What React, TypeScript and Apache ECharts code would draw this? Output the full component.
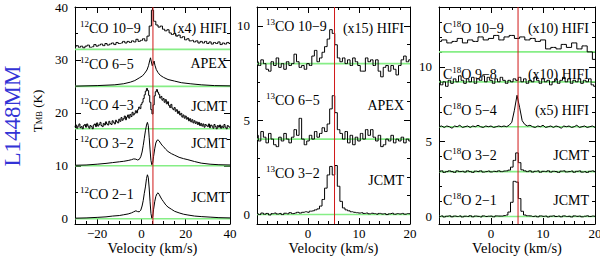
import React, { useEffect, useRef } from "react";
import * as echarts from "echarts";

const VLSR = 5.2;
const SERIF = "'Liberation Serif', 'DejaVu Serif', serif";

// ---------------- Panel 1 : 12CO (km/s, K) ----------------
const CO12_21: [number, number][] = [
  [-30, 0.1], [-25, 0.15], [-20, 0.25], [-16, 0.35], [-13, 0.5], [-10, 0.6], [-8, 0.75], [-6, 0.9],
  [-4.5, 1.1], [-3.5, 1.3], [-2.5, 1.5], [-1.8, 1.35], [-1, 1.3], [-0.3, 1.6], [0.3, 2.4], [0.8, 3.4],
  [1.3, 4.8], [1.8, 6.0], [2.3, 7.6], [2.7, 8.3], [3.1, 7.8], [3.5, 5.8], [3.9, 3.2], [4.3, 1.0],
  [4.7, 0.1], [5.1, 0.4], [5.5, 1.8], [6.0, 3.2], [6.5, 4.2], [7.0, 4.7], [7.5, 4.9], [8.0, 4.6],
  [8.6, 4.1], [9.3, 3.6], [10, 3.2], [11, 2.6], [12, 2.2], [13.5, 1.8], [15, 1.4], [17, 1.1],
  [19, 0.85], [21, 0.7], [24, 0.5], [27, 0.4], [31, 0.3], [35, 0.2], [40, 0.15],
];
const CO12_32: [number, number][] = [
  [-30, 10.1], [-25, 10.15], [-20, 10.3], [-16, 10.45], [-13, 10.6], [-10, 10.75], [-8, 10.85], [-6, 11.0],
  [-4.5, 11.15], [-3.5, 11.3], [-2.5, 11.25], [-1.8, 11.1], [-1, 11.2], [-0.3, 11.7], [0.3, 12.6], [0.8, 13.8],
  [1.3, 15.2], [1.8, 16.6], [2.3, 17.7], [2.7, 18.2], [3.1, 17.6], [3.5, 15.4], [3.9, 13.0], [4.3, 11.0],
  [4.7, 10.2], [5.1, 10.6], [5.5, 11.8], [6.0, 13.2], [6.5, 14.3], [7.0, 14.8], [7.5, 14.9], [8.0, 14.7],
  [8.6, 14.3], [9.3, 13.9], [10, 13.6], [11, 13.1], [12, 12.7], [13.5, 12.3], [15, 12.0], [17, 11.6],
  [19, 11.35], [21, 11.15], [24, 10.8], [27, 10.5], [31, 10.3], [35, 10.2], [40, 10.15],
];
const CO12_43_START = -30;
const CO12_43_STEP = 0.5;
const CO12_43 = [
  17.3, 17.7, 17.1, 17.5, 17.9, 17.2, 17.4, 17.0, 17.6, 17.8,
  17.3, 17.9, 17.5, 17.1, 17.6, 17.4, 17.0, 17.7, 17.9, 17.4,
  18.1, 17.5, 17.8, 18.2, 17.6, 17.4, 18.0, 17.7, 18.3, 17.9,
  17.7, 18.4, 18.0, 17.8, 18.5, 18.2, 17.9, 18.6, 18.3, 18.1,
  18.8, 18.4, 19.1, 18.6, 18.9, 19.4, 18.7, 19.2, 19.6, 19.0,
  19.7, 19.3, 20.1, 19.6, 19.9, 20.4, 20.0, 20.6, 21.1, 20.8,
  21.6, 22.0, 22.7, 23.4, 24.1, 24.6, 24.2, 23.3, 22.0, 20.6,
  19.8, 21.5, 23.2, 24.0, 24.4, 23.9, 23.5, 22.8, 23.1, 22.4,
  22.7, 22.0, 22.5, 21.7, 22.1, 21.4, 21.0, 21.6, 20.9, 20.6,
  21.0, 20.3, 20.6, 19.9, 20.3, 19.6, 19.9, 19.2, 19.6, 19.0,
  19.4, 18.8, 19.1, 18.5, 18.9, 18.3, 18.7, 18.1, 18.5, 18.0,
  18.3, 17.8, 18.2, 17.6, 18.0, 17.5, 17.9, 17.3, 17.8, 17.6,
  17.4, 17.9, 17.2, 17.7, 17.5, 17.1, 17.8, 17.4, 17.0, 17.6,
  17.3, 17.7, 17.1, 17.5, 17.2, 17.8, 17.3, 17.0, 17.6, 17.4,
  17.2,
];
const CO12_65: [number, number][] = [
  [-30, 25.05], [-20, 25.15], [-12, 25.3], [-8, 25.5], [-5, 25.8], [-3, 26.1], [-1, 26.6], [0.5, 27.0],
  [1.5, 27.5], [2.5, 28.1], [3.2, 28.9], [3.7, 29.8], [4.1, 30.4], [4.5, 29.6], [4.9, 28.9], [5.3, 29.3],
  [5.7, 29.8], [6.1, 29.0], [6.7, 28.2], [7.5, 27.6], [8.5, 27.1], [10, 26.7], [12, 26.3], [15, 26.0],
  [18, 25.7], [22, 25.5], [27, 25.3], [33, 25.15], [40, 25.1],
];
const CO12_109_START = -30;
const CO12_109_STEP = 1;
const CO12_109 = [
  32.5, 32.7, 32.4, 32.6, 32.3, 32.6, 32.8, 32.4, 32.5, 32.9,
  32.6, 32.8, 33.0, 32.7, 33.1, 32.8, 33.0, 33.2, 32.9, 33.3,
  33.1, 33.2, 33.5, 33.2, 33.5, 33.3, 33.6, 33.4, 33.9, 33.5,
  33.7, 34.0, 33.6, 34.5, 36.4, 39.4, 37.3, 36.6, 36.2, 36.4,
  35.8, 35.5, 35.7, 35.1, 34.8, 35.0, 34.5, 34.7, 34.2, 34.4,
  33.8, 34.0, 33.6, 33.7, 33.4, 33.6, 33.2, 33.5, 33.2, 33.5,
  33.1, 33.4, 33.0, 33.3, 33.1, 33.4, 32.9, 33.2, 33.0, 33.3,
  33.1,
];
const CO12_BASE = [0, 10, 17, 25, 32];
const CO12_NAMES = ["{s|12}CO 10−9", "{s|12}CO 6−5", "{s|12}CO 4−3", "{s|12}CO 3−2", "{s|12}CO 2−1"];
const CO12_TAGS = ["(x4) HIFI", "APEX", "JCMT", "JCMT", "JCMT"];

// ---------------- Panel 2 : 13CO ----------------
const CO13_START = -10;
const CO13_STEP = 0.5;
const CO13_32 = [
  0.05, 0.0, 0.08, 0.02, 0.06, -0.02, 0.05, 0.08, 0.03, 0.06,
  0.0, 0.07, 0.04, 0.1, 0.05, 0.08, 0.12, 0.08, 0.12, 0.15,
  0.12, 0.18, 0.2, 0.25, 0.3, 0.45, 0.8, 1.4, 2.1, 2.55,
  2.1, 2.6, 1.5, 0.7, 0.35, 0.25, 0.2, 0.15, 0.12, 0.1,
  0.08, 0.1, 0.06, 0.08, 0.04, 0.07, 0.05, 0.02, 0.06, 0.03,
  0.05, 0.0, 0.04, 0.07, 0.02, 0.05, 0.03, 0.06, 0.02, 0.05,
  0.04,
];
const CO13_65 = [
  4.2, 3.9, 4.4, 4.1, 3.8, 4.3, 4.0, 3.7, 3.6, 4.1,
  3.9, 4.3, 4.0, 3.8, 4.1, 4.5, 4.2, 5.1, 4.0, 3.7,
  3.9, 4.2, 4.0, 4.4, 4.1, 4.3, 4.6, 4.4, 4.8, 5.6,
  6.3, 5.4, 4.5, 4.3, 4.0, 4.4, 3.8, 4.2, 3.7, 4.1,
  3.9, 4.3, 4.0, 4.5, 4.2, 4.5, 4.1, 3.9, 4.2, 3.6,
  3.7, 4.0, 3.9, 4.2, 3.8, 4.0, 3.9, 4.1, 3.8, 4.0,
  3.9,
];
const CO13_109 = [
  8.1, 7.9, 8.2, 8.0, 7.7, 7.6, 8.1, 7.9, 8.3, 7.8,
  8.0, 7.7, 8.1, 7.9, 8.0, 8.5, 8.1, 7.8, 7.9, 7.7,
  8.0, 7.9, 8.4, 8.7, 8.1, 8.3, 8.6, 8.9, 9.3, 9.8,
  9.6, 9.0, 8.3, 8.1, 8.3, 8.0, 8.2, 7.9, 8.3, 8.1,
  7.9, 7.6, 7.6, 8.3, 8.1, 8.2, 7.9, 8.2, 7.6, 7.3,
  7.8, 7.9, 7.6, 7.9, 7.7, 7.4, 7.9, 8.2, 8.4, 8.1,
  8.2,
];
const CO13_BASE = [0, 4, 8];
const CO13_NAMES = ["{s|13}CO 10−9", "{s|13}CO 6−5", "{s|13}CO 3−2"];
const CO13_TAGS = ["(x15) HIFI", "APEX", "JCMT"];

// ---------------- Panel 3 : C18O ----------------
const C18O_109_START = -10;
const C18O_109_STEP = 1;
const C18O_109 = [
  11.7, 11.8, 11.6, 11.7, 11.9, 11.6, 11.8, 11.7, 12.0, 11.8,
  11.9, 12.1, 11.8, 12.0, 12.1, 11.9, 12.0, 11.8, 11.9, 11.7,
  11.8, 11.2, 11.3, 11.2, 11.5, 11.3, 11.6, 11.2, 11.4, 11.0,
  10.5,
];
const C18O_START = -10;
const C18O_STEP = 0.5;
const C18O_98 = [
  9.1, 8.8, 9.0, 8.7, 9.1, 8.9, 9.2, 9.0, 9.4, 9.1,
  8.9, 9.2, 9.0, 9.3, 8.9, 9.2, 9.1, 9.4, 9.0, 9.3,
  9.1, 8.9, 9.2, 9.0, 9.3, 9.1, 8.9, 9.1, 9.0, 9.2,
  9.1, 9.3, 9.0, 9.2, 8.9, 9.1, 9.0, 9.3, 9.1, 8.9,
  9.2, 9.0, 9.1, 8.8, 9.0, 9.2, 8.9, 9.1, 9.3, 9.0,
  9.2, 8.9, 9.1, 9.0, 9.2, 8.9, 9.1, 9.0, 9.2, 8.8,
  8.7,
];
const C18O_54 = [
  6.0, 6.05, 5.95, 6.05, 6.0, 5.9, 6.05, 6.0, 6.1, 5.95,
  6.0, 6.05, 5.95, 6.05, 6.0, 6.1, 6.0, 5.95, 6.05, 6.0,
  6.05, 5.95, 6.0, 6.05, 6.0, 6.05, 6.0, 6.1, 6.3, 7.1,
  8.1, 7.3, 6.4, 6.15, 6.05, 6.1, 6.0, 5.95, 6.05, 6.0,
  6.1, 5.95, 6.0, 6.05, 5.95, 6.05, 6.0, 5.9, 6.05, 6.0,
  6.05, 5.95, 6.0, 6.1, 5.95, 6.0, 6.05, 5.95, 6.0, 6.05,
  5.95,
];
const C18O_32 = [
  3.0, 3.05, 2.95, 3.0, 3.05, 3.0, 2.95, 3.05, 3.0, 3.02,
  2.97, 3.05, 3.0, 2.95, 3.03, 3.0, 3.05, 2.97, 3.0, 3.04,
  2.98, 3.02, 3.0, 3.05, 3.0, 3.04, 3.05, 3.1, 3.3, 3.75,
  4.25, 3.6, 3.12, 3.05, 3.0, 3.05, 2.97, 3.02, 3.05, 2.96,
  3.02, 3.0, 3.05, 2.97, 3.02, 3.0, 2.95, 3.03, 3.05, 2.98,
  3.0, 3.04, 2.96, 3.02, 3.05, 2.97, 3.0, 2.95, 3.02, 3.05,
  3.0,
];
const C18O_21 = [
  0.0, 0.04, -0.03, 0.02, 0.05, -0.02, 0.03, 0.0, 0.04, -0.03,
  0.02, 0.0, 0.05, -0.02, 0.03, 0.01, -0.03, 0.04, 0.0, 0.02,
  0.03, -0.02, 0.04, 0.03, 0.03, 0.06, 0.1, 0.3, 0.95, 2.35,
  2.3, 1.2, 0.35, 0.1, 0.05, 0.04, 0.0, 0.03, -0.02, 0.04,
  0.01, 0.03, -0.03, 0.02, 0.05, 0.0, 0.03, -0.02, 0.04, 0.0,
  0.02, -0.03, 0.04, 0.01, 0.03, -0.02, 0.02, 0.05, 0.0, 0.03,
  0.01,
];
const C18O_BASE = [0, 3, 6, 9, 11];
const C18O_NAMES = ["C{s|18}O 10−9", "C{s|18}O 9−8", "C{s|18}O 5−4", "C{s|18}O 3−2", "C{s|18}O 2−1"];
const C18O_TAGS = ["(x10) HIFI", "(x10) HIFI", "(x5) HIFI", "JCMT", "JCMT"];

// axis ticks
const P1_X_LABELS = [-20, 0, 20, 40];
const P1_X_MINOR = [-30, -25, -15, -10, -5, 5, 10, 15, 25, 30, 35];
const P1_Y_LABELS = [0, 10, 20, 30, 40];
const P1_Y_MINOR = [5, 15, 25, 35];
const P23_X_LABELS = [0, 10, 20];
const P23_X_MAJOR = [-10, 0, 10, 20];
const P23_X_MINOR = [-8, -6, -4, -2, 2, 4, 6, 8, 12, 14, 16, 18];
const P23_Y_LABELS = [0, 5, 10];
const P2_Y_MINOR = [1, 2, 3, 4, 6, 7, 8, 9, 11];
const P3_Y_MINOR = [1, 2, 3, 4, 6, 7, 8, 9, 11, 12, 13];

const channels = (start: number, step: number, vals: number[]) =>
  vals.map((t, i) => [start + i * step, t]);

type Spec = { data: number[][]; step: boolean };

const PANELS = [
  {
    left: 75, width: 155, xr: [-30, 40], yr: [-1, 40],
    xLab: P1_X_LABELS, xMaj: P1_X_LABELS, xMin: P1_X_MINOR,
    yLab: P1_Y_LABELS, yMin: P1_Y_MINOR,
    base: CO12_BASE,
    spectra: [
      { data: CO12_21, step: false },
      { data: CO12_32, step: false },
      { data: channels(CO12_43_START, CO12_43_STEP, CO12_43), step: true },
      { data: CO12_65, step: false },
      { data: channels(CO12_109_START, CO12_109_STEP, CO12_109), step: true },
    ] as Spec[],
    names: CO12_NAMES, tags: CO12_TAGS,
    nameX: 80, tagX: 227, nameY: [28, 64, 105, 143, 194], tagY: [28, 63, 106, 143, 197],
  },
  {
    left: 257, width: 153, xr: [-10, 20], yr: [-0.5, 11],
    xLab: P23_X_LABELS, xMaj: P23_X_MAJOR, xMin: P23_X_MINOR,
    yLab: P23_Y_LABELS, yMin: P2_Y_MINOR,
    base: CO13_BASE,
    spectra: [
      { data: channels(CO13_START, CO13_STEP, CO13_32), step: true },
      { data: channels(CO13_START, CO13_STEP, CO13_65), step: true },
      { data: channels(CO13_START, CO13_STEP, CO13_109), step: true },
    ] as Spec[],
    names: CO13_NAMES, tags: CO13_TAGS,
    nameX: 266, tagX: 404, nameY: [26, 100, 173], tagY: [28, 105, 180],
  },
  {
    left: 439, width: 156, xr: [-10, 20], yr: [-0.5, 14],
    xLab: P23_X_LABELS, xMaj: P23_X_MAJOR, xMin: P23_X_MINOR,
    yLab: P23_Y_LABELS, yMin: P3_Y_MINOR,
    base: C18O_BASE,
    spectra: [
      { data: channels(C18O_START, C18O_STEP, C18O_21), step: true },
      { data: channels(C18O_START, C18O_STEP, C18O_32), step: true },
      { data: channels(C18O_START, C18O_STEP, C18O_54), step: false },
      { data: channels(C18O_START, C18O_STEP, C18O_98), step: true },
      { data: channels(C18O_109_START, C18O_109_STEP, C18O_109), step: true },
    ] as Spec[],
    names: C18O_NAMES, tags: C18O_TAGS,
    nameX: 443, tagX: 589, nameY: [28, 74, 110, 155, 200], tagY: [28, 74, 110, 155, 200],
  },
];

const TOP = 7;
const HEIGHT = 217;

const fmt = (v: number) => (v < 0 ? "−" + Math.abs(v) : String(v));

function buildOption() {
  const grid: any[] = [];
  const xAxis: any[] = [];
  const yAxis: any[] = [];
  const series: any[] = [];
  const graphic: any[] = [];
  const line = { color: "#000", width: 1 };

  PANELS.forEach((p, i) => {
    grid.push({ left: p.left, top: TOP, width: p.width, height: HEIGHT, outerBoundsMode: "none" });
    const common = (min: number, max: number) => ({
      gridIndex: i, type: "value", min, max, splitLine: { show: false },
    });
    // x axes: bottom major (with labels), bottom minor, top major, top minor
    xAxis.push({
      ...common(p.xr[0], p.xr[1]), position: "bottom",
      axisLine: { show: true, onZero: false, lineStyle: line },
      axisTick: { show: true, inside: true, length: 6, customValues: p.xMaj, lineStyle: line },
      axisLabel: {
        show: true, customValues: p.xLab, formatter: fmt, color: "#000",
        fontFamily: SERIF, fontSize: 13, lineHeight: 12, margin: 3,
      },
      name: "Velocity (km/s)", nameLocation: "middle", nameGap: 16, nameMoveOverlap: false,
      nameTextStyle: {
        color: "#000", fontFamily: SERIF, fontSize: 14.5, fontWeight: "normal", lineHeight: 15,
      },
    });
    xAxis.push({
      ...common(p.xr[0], p.xr[1]), position: "bottom",
      axisLine: { show: false, onZero: false },
      axisTick: { show: true, inside: true, length: 3, customValues: p.xMin, lineStyle: line },
      axisLabel: { show: false },
    });
    xAxis.push({
      ...common(p.xr[0], p.xr[1]), position: "top",
      axisLine: { show: true, onZero: false, lineStyle: line },
      axisTick: { show: true, inside: true, length: 6, customValues: p.xMaj, lineStyle: line },
      axisLabel: { show: false },
    });
    xAxis.push({
      ...common(p.xr[0], p.xr[1]), position: "top",
      axisLine: { show: false, onZero: false },
      axisTick: { show: true, inside: true, length: 3, customValues: p.xMin, lineStyle: line },
      axisLabel: { show: false },
    });
    // y axes
    yAxis.push({
      ...common(p.yr[0], p.yr[1]), position: "left",
      axisLine: { show: true, onZero: false, lineStyle: line },
      axisTick: { show: true, inside: true, length: 6, customValues: p.yLab, lineStyle: line },
      axisLabel: {
        show: true, customValues: p.yLab, formatter: fmt, color: "#000",
        fontFamily: SERIF, fontSize: 13, margin: 7,
      },
    });
    yAxis.push({
      ...common(p.yr[0], p.yr[1]), position: "left",
      axisLine: { show: false, onZero: false },
      axisTick: { show: true, inside: true, length: 3, customValues: p.yMin, lineStyle: line },
      axisLabel: { show: false },
    });
    yAxis.push({
      ...common(p.yr[0], p.yr[1]), position: "right",
      axisLine: { show: true, onZero: false, lineStyle: line },
      axisTick: { show: true, inside: true, length: 6, customValues: p.yLab, lineStyle: line },
      axisLabel: { show: false },
    });
    yAxis.push({
      ...common(p.yr[0], p.yr[1]), position: "right",
      axisLine: { show: false, onZero: false },
      axisTick: { show: true, inside: true, length: 3, customValues: p.yMin, lineStyle: line },
      axisLabel: { show: false },
    });

    const xi = i * 4;
    const yi = i * 4;
    p.base.forEach((b) => {
      series.push({
        type: "line", xAxisIndex: xi, yAxisIndex: yi, silent: true, z: 1,
        showSymbol: false, symbol: "none",
        data: [[p.xr[0], b], [p.xr[1], b]],
        lineStyle: { color: "#86ee86", width: 1.6 },
      });
    });
    p.spectra.forEach((s) => {
      series.push({
        type: "line", xAxisIndex: xi, yAxisIndex: yi, silent: true, z: 2,
        showSymbol: false, symbol: "none", step: s.step ? "middle" : false,
        data: s.data,
        lineStyle: { color: "#000", width: 1 },
      });
    });
    series.push({
      type: "line", xAxisIndex: xi, yAxisIndex: yi, silent: true, z: 3,
      showSymbol: false, symbol: "none",
      data: [[VLSR, p.yr[0]], [VLSR, p.yr[1]]],
      lineStyle: { color: "#d01818", width: 1 },
    });

    const nameCount = p.names.length;
    for (let k = 0; k < nameCount; k++) {
      graphic.push({
        type: "text", x: p.nameX, y: p.nameY[k], z: 10,
        style: {
          text: p.names[k], fill: "#000", fontFamily: SERIF, fontSize: 14,
          align: "left", verticalAlign: "middle", lineHeight: 17,
          rich: { s: { fontSize: 9, fontFamily: SERIF, fill: "#000", verticalAlign: "top", lineHeight: 17 } },
        },
      });
      graphic.push({
        type: "text", x: p.tagX, y: p.tagY[k], z: 10,
        style: {
          text: p.tags[k], fill: "#000", fontFamily: SERIF, fontSize: 14,
          align: "right", verticalAlign: "middle",
        },
      });
    }
  });

  graphic.push({
    type: "text", x: 12, y: 116, rotation: Math.PI / 2, z: 10,
    style: {
      text: "L1448MM", fill: "#3333d6", fontFamily: SERIF, fontSize: 23, lineHeight: 22,
      align: "center", verticalAlign: "middle",
    },
  });
  graphic.push({
    type: "text", x: 39, y: 111, rotation: Math.PI / 2, z: 10,
    style: {
      text: "{t|T}{u|MB}{t| (K)}", fill: "#000", fontFamily: SERIF, fontSize: 13,
      align: "center", verticalAlign: "middle",
      rich: {
        t: { fontSize: 13, fontFamily: SERIF, fill: "#000", padding: [0, 0, 4, 0] },
        u: { fontSize: 8.5, fontFamily: SERIF, fill: "#000" },
      },
    },
  });

  return {
    animation: false,
    backgroundColor: "#fff",
    grid, xAxis, yAxis, series, graphic,
  };
}

export default function App() {
  const ref = useRef<HTMLDivElement>(null);
  useEffect(() => {
    if (!ref.current) return;
    const chart = echarts.init(ref.current, null, { renderer: "svg" });
    chart.setOption(buildOption() as any);
    return () => chart.dispose();
  }, []);
  return (
    <div
      ref={ref}
      style={{ position: "absolute", left: 0, top: 0, width: 600, height: 256, background: "#fff" }}
    />
  );
}
